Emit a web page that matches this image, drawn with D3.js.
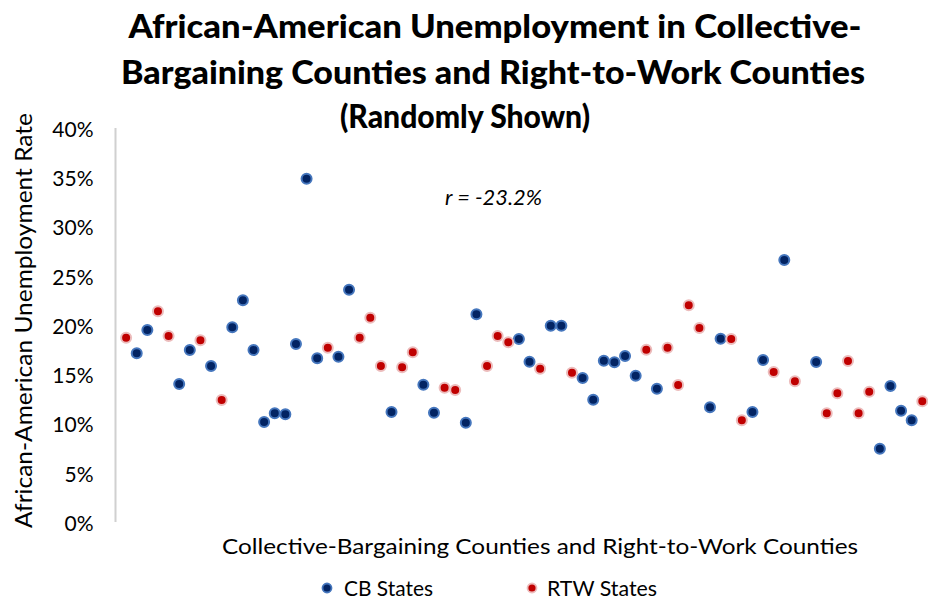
<!DOCTYPE html>
<html>
<head>
<meta charset="utf-8">
<script src="https://cdn.jsdelivr.net/npm/d3@7"></script>
<style>
  html, body { margin: 0; padding: 0; background: #ffffff; }
  svg { display: block; font-family: Lato, "Open Sans", sans-serif; }
</style>
</head>
<body>
<svg id="chart" width="928" height="602"></svg>
<script>
// County slot (position along the x axis) and African-American unemployment rate
const cbSlot = [2, 3, 6, 7, 9, 11, 12, 13, 14, 15, 16, 17, 18, 19, 21, 22, 26, 29, 30, 33, 34,
  38, 39, 41, 42, 44, 45, 46, 47, 48, 49, 51, 56, 57, 60, 61, 63, 66, 72, 73, 74, 75];
const cbRate = [0.1713, 0.1949, 0.1401, 0.1746, 0.1584, 0.1977, 0.2251, 0.1746, 0.1015, 0.1104,
  0.1093, 0.1807, 0.3485, 0.1662, 0.1678, 0.2358, 0.1117, 0.1394, 0.1110, 0.1008, 0.2109,
  0.1858, 0.1627, 0.1993, 0.1993, 0.1462, 0.1242, 0.1638, 0.1621, 0.1685, 0.1485, 0.1353,
  0.1164, 0.1861, 0.1117, 0.1645, 0.2660, 0.1624, 0.0744, 0.1381, 0.1130, 0.1032];

const rtwSlot = [1, 4, 5, 8, 10, 20, 23, 24, 25, 27, 28, 31, 32, 35, 36, 37, 40, 43, 50, 52,
  53, 54, 55, 58, 59, 62, 64, 67, 68, 69, 70, 71, 76];
const rtwRate = [0.1871, 0.2139, 0.1888, 0.1845, 0.1239, 0.1770, 0.1871, 0.2074, 0.1584, 0.1571,
  0.1723, 0.1363, 0.1340, 0.1584, 0.1888, 0.1824, 0.1556, 0.1516, 0.1749, 0.1770, 0.1391,
  0.2200, 0.1970, 0.1858, 0.1032, 0.1523, 0.1428, 0.1104, 0.1307, 0.1635, 0.1104, 0.1323,
  0.1225];

const yTicks = [0, 0.05, 0.10, 0.15, 0.20, 0.25, 0.30, 0.35, 0.40];

const titleLines = [
  "African-American Unemployment in Collective-",
  "Bargaining Counties and Right-to-Work Counties",
  "(Randomly Shown)"
];
const xTitle = "Collective-Bargaining Counties and Right-to-Work Counties";
const yTitle = "African-American Unemployment Rate";
const corrNote = "r = -23.2%";
const seriesNames = ["CB States", "RTW States"];

const styles = {
  cb:  { fill: "#032463", stroke: "#4576bd" },
  rtw: { fill: "#c00000", stroke: "#ecbcbc" }
};

const svg = d3.select("#chart");

const x = d3.scaleLinear().domain([0, 76]).range([115.5, 922.3]);
const y = d3.scaleLinear().domain([0, 0.40]).range([522, 128]);

// Title (three centred lines, bold)
const titleSpec = [
  { cx: 495, y: 38, len: 733 },
  { cx: 493, y: 84, len: 744 },
  { cx: 465, y: 128, len: 250 }
];
svg.append("g").selectAll("text")
  .data(titleLines)
  .join("text")
  .attr("x", (d, i) => titleSpec[i].cx)
  .attr("y", (d, i) => titleSpec[i].y)
  .attr("text-anchor", "middle")
  .attr("font-size", 33)
  .attr("font-weight", 900)
  .attr("fill", "#000")
  .attr("textLength", (d, i) => titleSpec[i].len)
  .attr("lengthAdjust", "spacingAndGlyphs")
  .text(d => d);

// Y axis: tick labels only, with a light vertical rule at x = 0
const yAxis = d3.axisLeft(y)
  .tickValues(yTicks)
  .tickFormat(d3.format(".0%"))
  .tickSize(0)
  .tickPadding(22);
const gy = svg.append("g")
  .attr("transform", `translate(${x(0)},0)`)
  .call(yAxis);
gy.select(".domain").remove();
gy.selectAll("text")
  .attr("font-family", "Lato, 'Open Sans', sans-serif")
  .attr("font-size", 21)
  .attr("fill", "#000")
  .attr("dy", "0.4em");

svg.append("line")
  .attr("x1", x(0)).attr("x2", x(0))
  .attr("y1", y(0.40)).attr("y2", y(0))
  .attr("stroke", "#d0d0d0")
  .attr("stroke-width", 2);

// Axis titles
svg.append("text")
  .attr("transform", `translate(32,${(113 + 528) / 2}) rotate(-90)`)
  .attr("text-anchor", "middle")
  .attr("font-size", 23)
  .attr("fill", "#000")
  .attr("textLength", 415)
  .attr("lengthAdjust", "spacingAndGlyphs")
  .text(yTitle);

svg.append("text")
  .attr("x", 540)
  .attr("y", 554)
  .attr("text-anchor", "middle")
  .attr("font-size", 22)
  .attr("fill", "#000")
  .attr("textLength", 636)
  .attr("lengthAdjust", "spacingAndGlyphs")
  .text(xTitle);

// Correlation note
svg.append("text")
  .attr("x", 445)
  .attr("y", 205)
  .attr("font-size", 21)
  .attr("font-style", "italic")
  .attr("fill", "#000")
  .attr("textLength", 97)
  .attr("lengthAdjust", "spacingAndGlyphs")
  .text(corrNote);

// Scatter points
function drawSeries(slots, rates, st) {
  svg.append("g").selectAll("circle")
    .data(slots.map((s, i) => ({ s, v: rates[i] })))
    .join("circle")
    .attr("cx", d => x(d.s))
    .attr("cy", d => y(d.v))
    .attr("r", 5)
    .attr("fill", st.fill)
    .attr("stroke", st.stroke)
    .attr("stroke-width", 2);
}
drawSeries(cbSlot, cbRate, styles.cb);
drawSeries(rtwSlot, rtwRate, styles.rtw);

// Legend
const legendItems = [
  { name: seriesNames[0], st: styles.cb, mx: 327, tx: 344, len: 89 },
  { name: seriesNames[1], st: styles.rtw, mx: 532, tx: 547, len: 110 }
];
const lg = svg.append("g");
legendItems.forEach(it => {
  lg.append("circle")
    .attr("cx", it.mx).attr("cy", 588)
    .attr("r", 4.5)
    .attr("fill", it.st.fill)
    .attr("stroke", it.st.stroke)
    .attr("stroke-width", 1.8);
  lg.append("text")
    .attr("x", it.tx).attr("y", 596)
    .attr("font-size", 22)
    .attr("fill", "#000")
    .attr("textLength", it.len)
    .attr("lengthAdjust", "spacingAndGlyphs")
    .text(it.name);
});
</script>
</body>
</html>
